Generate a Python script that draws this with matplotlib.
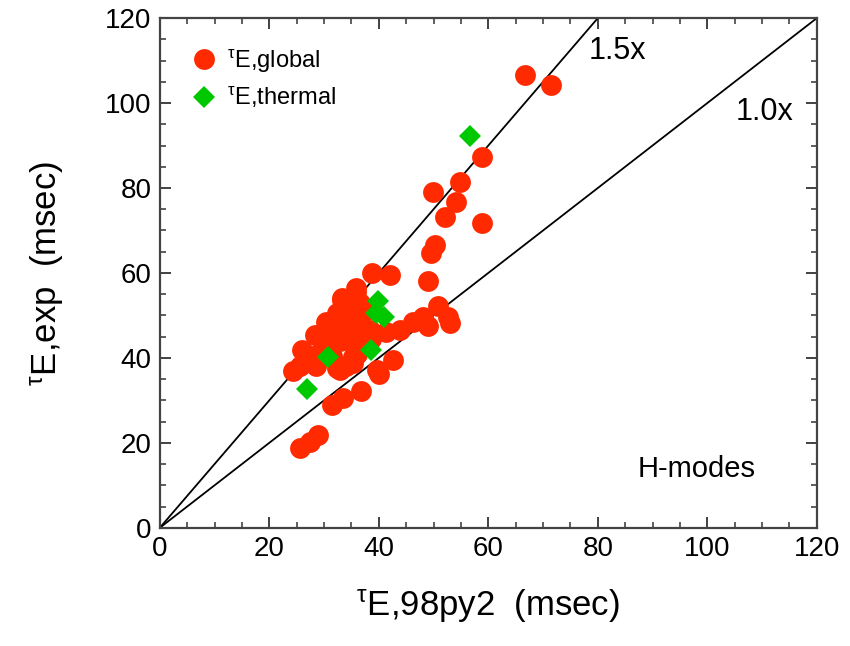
import numpy as np
import matplotlib.pyplot as plt
from matplotlib.ticker import MultipleLocator

plt.rcParams['font.family'] = ['Liberation Sans', 'DejaVu Sans']
plt.rcParams['mathtext.fontset'] = 'custom'
plt.rcParams['mathtext.rm'] = 'Liberation Sans'
plt.rcParams['mathtext.it'] = 'Liberation Sans'

# tau_E,global (red circles)
glob_x = [66.7, 71.5, 58.9, 54.8, 49.9, 54.1, 52.1, 58.9, 50.2, 49.6,
          49.0, 50.8, 52.7, 53.0, 49.0, 48.0, 46.3, 43.8, 41.4, 38.7,
          42.0, 35.9, 33.2, 30.4, 28.3, 25.9, 24.4, 32.9, 42.6, 40.1,
          36.8, 33.5, 31.4, 28.9, 27.4, 25.6, 34.1, 32.3, 36.2, 37.8,
          37.1, 35.3, 32.9, 29.8, 27.4, 25.6, 38.4, 34.1, 35.3, 39.6,
          32.3, 28.6, 35.9, 33.2, 31.0, 34.5, 36.5, 37.5, 33.0, 30.0,
          35.5, 38.5, 36.0, 28.0, 31.5, 34.0]
glob_y = [106.6, 104.2, 87.2, 81.5, 79.1, 76.8, 73.1, 71.7, 66.6, 64.6,
          58.0, 52.1, 49.7, 48.2, 47.4, 49.7, 48.5, 46.6, 46.2, 59.9,
          59.5, 55.6, 53.6, 48.5, 45.4, 41.9, 36.8, 37.2, 39.5, 36.2,
          32.3, 30.5, 28.9, 21.9, 20.3, 18.8, 47.4, 50.5, 48.9, 46.2,
          42.7, 40.3, 43.9, 43.5, 40.3, 38.0, 46.6, 44.2, 38.8, 37.2,
          37.6, 38.0, 56.5, 54.1, 45.5, 51.5, 53.0, 51.0, 46.0, 42.0,
          45.5, 44.5, 41.0, 40.5, 40.5, 38.0]

# tau_E,thermal (green diamonds)
therm_x = [56.6, 39.9, 39.5, 40.9, 30.7, 38.5, 26.8]
therm_y = [92.2, 53.5, 50.5, 49.7, 40.2, 41.9, 32.6]

fig = plt.figure(figsize=(8.5, 6.46), dpi=100)
ax = fig.add_axes([0.188, 0.183, 0.773, 0.789])

# lignes 1.5x et 1.0x
ax.plot([0, 80], [0, 120], color='black', lw=1.3)
ax.plot([0, 120], [0, 120], color='black', lw=1.3)

ax.plot(glob_x, glob_y, 'o', color='#ff2a00', markersize=15, markeredgewidth=0,
        label=r'$^{\mathrm{τ}}$E,global')
ax.plot(therm_x, therm_y, 'D', color='#00c800', markersize=11, markeredgewidth=0,
        label=r'$^{\mathrm{τ}}$E,thermal')

ax.text(83.5, 112.2, '1.5x', fontsize=22, ha='center', va='center')
ax.text(110.5, 97.9, '1.0x', fontsize=22, ha='center', va='center')
ax.text(98.1, 13.9, 'H-modes', fontsize=21, ha='center', va='center')

ax.set_xlim(0, 120)
ax.set_ylim(0, 120)
ax.xaxis.set_major_locator(MultipleLocator(20))
ax.xaxis.set_minor_locator(MultipleLocator(5))
ax.yaxis.set_major_locator(MultipleLocator(20))
ax.yaxis.set_minor_locator(MultipleLocator(5))
ax.tick_params(which='both', direction='in', top=True, right=True,
               colors='#333333', labelcolor='black', labelsize=20, pad=6)
ax.tick_params(which='major', length=8, width=1.3)
ax.tick_params(which='minor', length=4, width=1.1)
for s in ax.spines.values():
    s.set_color('#444444')
    s.set_linewidth(1.6)

ax.set_xlabel(r'$^{\mathrm{τ}}$E,98py2  (msec)', fontsize=25, labelpad=18)
ax.set_ylabel(r'$^{\mathrm{τ}}$E,exp  (msec)', fontsize=25, labelpad=28)

ax.legend(loc='upper left', frameon=False, fontsize=17, handletextpad=0.4,
          handlelength=1.2, borderaxespad=0.3, labelspacing=0.45, numpoints=1,
          bbox_to_anchor=(0.02, 0.975))

plt.savefig('out.png', dpi=100)
